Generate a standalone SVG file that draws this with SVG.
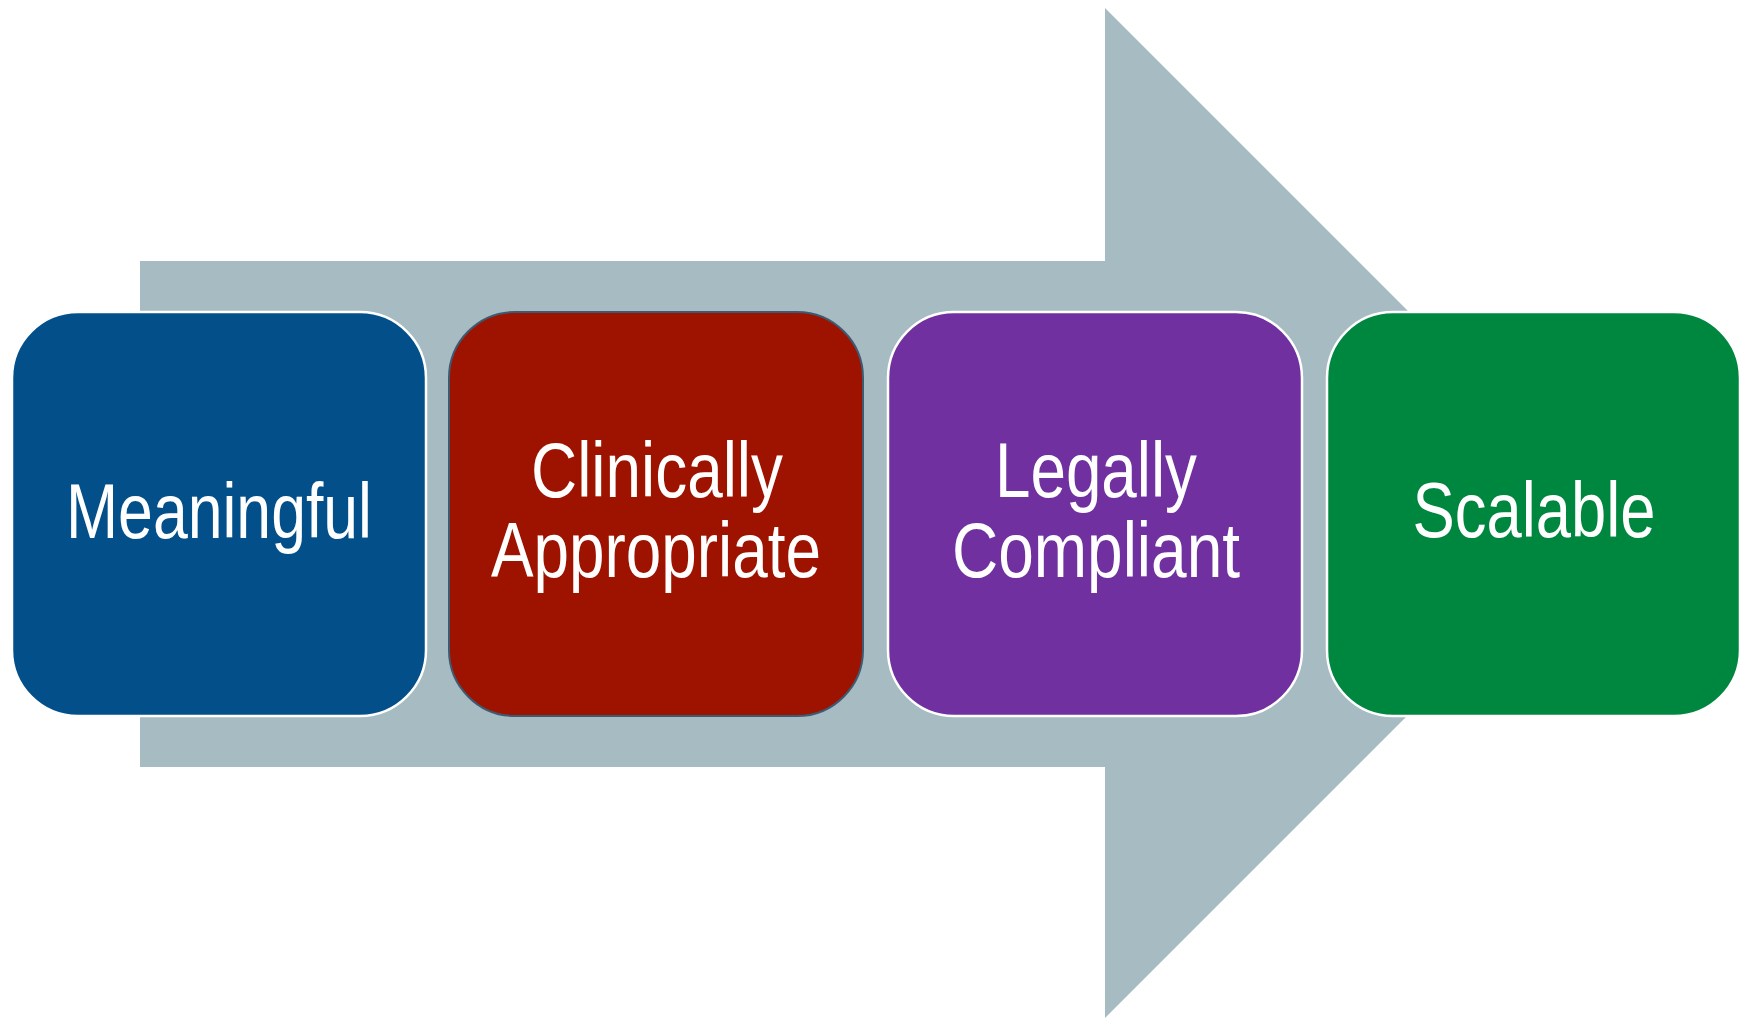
<svg xmlns="http://www.w3.org/2000/svg" width="1748" height="1018" viewBox="0 0 1748 1018">
<style>
.box{stroke:#ffffff;stroke-width:2.5}
.lbl{font-family:"Liberation Sans",Arial,sans-serif;font-size:77px;fill:#ffffff;text-anchor:middle}
</style>
<rect width="1748" height="1018" fill="#ffffff"/>
<g id="connectors">
<polygon id="arrow" points="140,261 1105,261 1105,8 1610,513 1105,1018 1105,767 140,767" fill="#A6BBC2"/>
</g>
<g id="node-meaningful">
<rect class="box" x="12" y="312" width="414" height="404" rx="66" ry="66" fill="#024F8A"/>
<text class="lbl" x="219" y="538" textLength="306" lengthAdjust="spacingAndGlyphs">Meaningful</text>
</g>
<g id="node-clinically">
<rect x="449" y="312" width="414" height="404" rx="66" ry="66" fill="#9E1300" stroke="#3E5A72" stroke-width="2"/>
<text class="lbl" x="657" y="497" textLength="252" lengthAdjust="spacingAndGlyphs">Clinically</text>
<text class="lbl" x="656" y="577" textLength="330" lengthAdjust="spacingAndGlyphs">Appropriate</text>
</g>
<g id="node-legally">
<rect class="box" x="888" y="312" width="414" height="404" rx="66" ry="66" fill="#7030A0"/>
<text class="lbl" x="1096" y="497" textLength="202" lengthAdjust="spacingAndGlyphs">Legally</text>
<text class="lbl" x="1096" y="577" textLength="288" lengthAdjust="spacingAndGlyphs">Compliant</text>
</g>
<g id="node-scalable">
<rect class="box" x="1327" y="312" width="413" height="404" rx="66" ry="66" fill="#00873F"/>
<text class="lbl" x="1534" y="537" textLength="243" lengthAdjust="spacingAndGlyphs">Scalable</text>
</g>
</svg>
